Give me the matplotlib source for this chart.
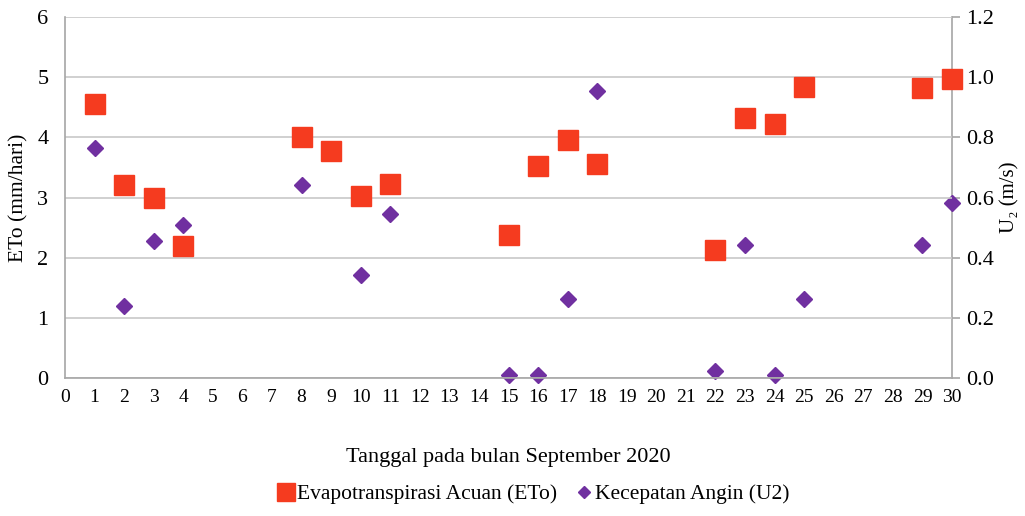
import matplotlib.pyplot as plt

# Data
days = [1, 2, 3, 4, 8, 9, 10, 11, 15, 16, 17, 18, 22, 23, 24, 25, 29, 30]
eto = [4.55, 3.2, 3.0, 2.2, 4.0, 3.78, 3.03, 3.22, 2.37, 3.53, 3.95, 3.55,
       2.12, 4.33, 4.22, 4.83, 4.82, 4.97]
u2 = [0.765, 0.24, 0.455, 0.51, 0.64, 0.76, 0.342, 0.545, 0.01, 0.01, 0.262,
      0.955, 0.025, 0.443, 0.01, 0.262, 0.443, 0.583]

x_ticks = list(range(0, 31))
eto_ticks = [0, 1, 2, 3, 4, 5, 6]
u2_ticks = [0.0, 0.2, 0.4, 0.6, 0.8, 1.0, 1.2]

plt.rcParams["font.family"] = ["Liberation Serif", "DejaVu Serif"]

RED = "#F53B1F"
PURPLE = "#7030A0"
GRID = "#C8C8C8"

fig = plt.figure(figsize=(10.25, 5.16), dpi=100)
ax = fig.add_axes([0.0634, 0.2674, 0.8654, 0.6996])
ax2 = ax.twinx()

ax2.plot(days, u2, linestyle="none", marker="D", markersize=8.5,
         color=PURPLE, zorder=3, clip_on=False)
ax.plot(days, eto, linestyle="none", marker="s", markersize=14.5,
        color=RED, zorder=3, clip_on=False)

ax.set_xlim(0, 30)
ax.set_ylim(0, 6)
ax2.set_ylim(0, 1.2)
ax.set_xticks(x_ticks)
ax.set_yticks(eto_ticks)
ax2.set_yticks(u2_ticks)
ax2.set_yticklabels([f"{v:.1f}" for v in u2_ticks])

ax.grid(axis="y", color=GRID, linewidth=1.2)
ax.set_axisbelow(True)
ax.set_zorder(ax2.get_zorder() + 1)
ax.patch.set_visible(False)

for a in (ax, ax2):
    a.spines["top"].set_visible(False)
    for s in ("left", "right", "bottom"):
        a.spines[s].set_color("#A6A6A6")
        a.spines[s].set_linewidth(1.2)
ax.spines["right"].set_visible(False)
ax2.spines["left"].set_visible(False)
ax2.spines["bottom"].set_visible(False)

ax.tick_params(axis="x", length=0, labelsize=14, pad=8)
ax.tick_params(axis="y", length=0, labelsize=16, pad=12)
ax2.tick_params(axis="y", length=6, width=1.2, color="#A6A6A6",
                labelsize=16, pad=4)

ax.set_ylabel("ETo (mm/hari)", fontsize=15.5, labelpad=6)
ax2.set_ylabel("U\u2082 (m/s)", fontsize=15, labelpad=5)
ax.set_xlabel("Tanggal pada bulan September 2020", fontsize=16, labelpad=30)

handles = [
    plt.Line2D([], [], linestyle="none", marker="s", markersize=13, color=RED),
    plt.Line2D([], [], linestyle="none", marker="D", markersize=6.5, color=PURPLE),
]
fig.legend(handles, ["Evapotranspirasi Acuan (ETo)", "Kecepatan Angin (U2)"],
           loc="lower center", bbox_to_anchor=(0.52, -0.015), ncol=2,
           frameon=False, fontsize=15.5, handletextpad=0.05, columnspacing=0.8,
           handlelength=0.9)

plt.savefig("out.png", dpi=100)
